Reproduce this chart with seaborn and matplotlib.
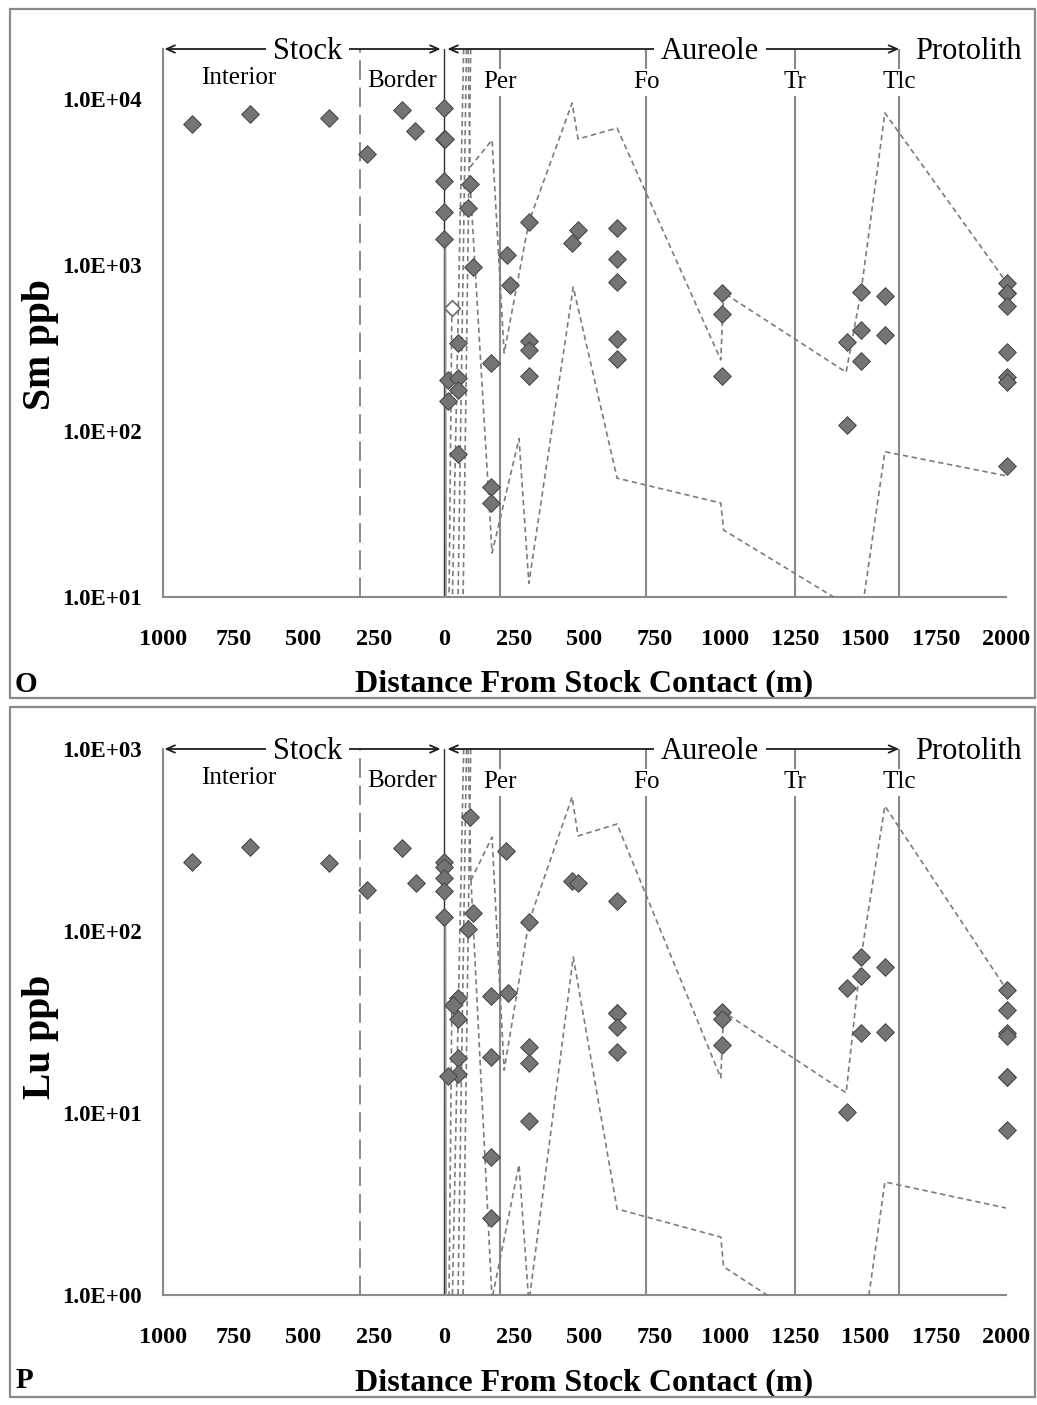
import numpy as np
import matplotlib
matplotlib.use("Agg")
import matplotlib.pyplot as plt
from matplotlib.patches import Rectangle
from matplotlib.ticker import FixedLocator, NullLocator
import seaborn as sns

sns.set_theme(style="white")
plt.rcParams['font.family'] = ['Liberation Serif', 'DejaVu Serif']
plt.rcParams['text.color'] = 'black'
plt.rcParams['axes.labelcolor'] = 'black'
plt.rcParams['xtick.color'] = 'black'
plt.rcParams['ytick.color'] = 'black'

# ---------------------------------------------------------------------------
# Distance axis: negative = inside the stock, positive = into the aureole (m)
X_TICKS = list(range(-1000, 2001, 250))
X_TICK_LABELS = [str(abs(t)) for t in X_TICKS]

BORDER_X = -300
CONTACT_X = 0
ZONE_BOUNDS = [200, 720, 1250, 1620]
ZONE_NAMES = ["Per", "Fo", "Tr", "Tlc"]

# ---------------------------------------------------------------------------
# Sm (ppb)
sm_dist = [-897, -690, -409, -274, -149, -103,
           0, 0, 5, 0, 0, 0,
           50, 14, 50, 50, 14, 50,
           93, 85, 103,
           167, 167, 167,
           224, 235,
           302, 302, 302, 302,
           456, 477,
           616, 616, 616, 616, 616,
           989, 989, 989,
           1434, 1434,
           1484, 1484, 1484,
           1569, 1569,
           2003, 2003, 2003, 2003, 2003, 2003, 2003, 2003]
sm_val = [7070, 8130, 7690, 4670, 8590, 6410,
          8830, 5740, 5740, 3210, 2080, 1430,
          339, 203, 208, 177, 152, 73,
          3080, 2200, 973,
          257, 46, 36.8,
          1150, 760,
          1815, 348, 308, 213,
          1360, 1625,
          1670, 1087, 791, 358, 272,
          678, 507, 214,
          344, 109,
          687, 405, 264,
          650, 378,
          780, 678, 678, 566, 299, 211, 197, 61.5]
sm_open_dist = [28]
sm_open_val = [550]

sm_upper_dist = [93, 171, 214, 302, 456, 477, 616, 985, 995, 1431, 1484, 1569, 2003]
sm_upper_val = [3890, 5660, 295, 1815, 9460, 5740, 6680, 268, 680, 226, 687, 8240, 780]
sm_lower_dist = [93, 171, 267, 302, 460, 616, 985, 995, 1431, 1484, 1569, 2003]
sm_lower_val = [3080, 18.4, 90, 12.1, 736, 52, 36.8, 25.3, 9, 7.5, 75, 53.6]

# steep traces near the contact (top of range -> bottom of range)
sm_steep_dist = [[70, 30], [80, 50], [95, 68], [86, 93], [28, 18]]
sm_steep_val = [[2e4, 10], [2e4, 10], [2e4, 10], [2e4, 3890], [550, 10]]
sm_drop_dist = [5, 7]
sm_drop_val = [1430, 10]

# ---------------------------------------------------------------------------
# Lu (ppb)
lu_dist = [-897, -690, -409, -274, -150, -100,
           0, 0, 0, 0, 0,
           93, 221, 103, 85,
           50, 32, 50, 50, 50, 14,
           167, 167, 167, 167,
           228,
           302, 302, 302, 302,
           456, 477,
           616, 616, 616, 616, 616,
           989, 989, 989,
           1434, 1434,
           1484, 1484, 1484,
           1569, 1569,
           2003, 2003, 2003, 2003, 2003, 2003, 2003]
lu_val = [239, 290, 236, 168, 286, 184,
          240, 225, 195, 165, 119,
          423, 275, 126, 103,
          43, 39, 33, 20, 16.4, 16,
          44, 20.3, 5.7, 2.65,
          45.6,
          112, 23, 18.8, 9.0,
          188, 184,
          146, 35.4, 35.4, 29.7, 21.6,
          35.9, 33, 23.6,
          48.6, 10.1,
          72, 56.6, 27.5,
          63.4, 27.9,
          47.4, 36.8, 27.5, 26.4, 15.8, 15.8, 8.07]

lu_upper_dist = [96, 171, 214, 302, 456, 477, 616, 985, 995, 1431, 1484, 1569, 2003]
lu_upper_val = [190, 328, 17.2, 112, 545, 333, 387, 15.6, 35.9, 12.9, 72, 486, 47.4]
lu_lower_dist = [96, 171, 267, 302, 460, 616, 985, 995, 1431, 1484, 1569, 2003]
lu_lower_val = [190, 0.95, 5.2, 0.9, 72, 2.97, 2.08, 1.43, 0.52, 0.49, 4.18, 3.0]

lu_steep_dist = [[70, 30], [80, 50], [95, 68], [86, 96], [28, 18]]
lu_steep_val = [[1e3, 1], [1e3, 1], [1e3, 1], [1e3, 190], [40, 1]]
lu_drop_dist = [5, 7]
lu_drop_val = [119, 1]

# ---------------------------------------------------------------------------
W, H = 1037, 1405
fig = plt.figure(figsize=(W / 100, H / 100), dpi=100)
fig.patch.set_facecolor("white")

FILL = "#747474"
EDGE = "#4a4a4a"
TRACE = "#7c7c7c"
ZONE = "#8a8a8a"
SPINE = "#8a8a8a"


def px_axes(left, top, right, bottom):
    return fig.add_axes([left / W, 1 - bottom / H, (right - left) / W, (bottom - top) / H])


def frame(top, bottom):
    fig.add_artist(Rectangle((10 / W, 1 - bottom / H), (1035 - 10) / W, (bottom - top) / H,
                             transform=fig.transFigure, fill=False,
                             edgecolor="#8a8a8a", linewidth=1.6))


def draw_panel(ax, pts_d, pts_v, up_d, up_v, lo_d, lo_v, steep_d, steep_v,
               drop_d, drop_v, ylim, yticks, ylabel, ylabel_y, xlabel_y,
               open_d=None, open_v=None):
    ax.set_yscale("log")
    dash = (0, (3.2, 2.2))
    for dd, vv in zip(steep_d, steep_v):
        sns.lineplot(x=dd, y=vv, ax=ax, sort=False, estimator=None,
                     color=TRACE, linewidth=1.2, linestyle=dash, zorder=3)
    sns.lineplot(x=drop_d, y=drop_v, ax=ax, sort=False, estimator=None,
                 color="#9a9a9a", linewidth=1.4, zorder=3)
    for dd, vv in ((up_d, up_v), (lo_d, lo_v)):
        sns.lineplot(x=dd, y=vv, ax=ax, sort=False, estimator=None,
                     color=TRACE, linewidth=1.2, linestyle=dash, zorder=3)

    # zone boundaries
    ax.axvline(BORDER_X, color=ZONE, linewidth=1.4, linestyle=(0, (10, 4)), zorder=1)
    ax.axvline(CONTACT_X, color="#2e2e2e", linewidth=1.0, zorder=2)
    for b in ZONE_BOUNDS:
        ax.axvline(b, color=ZONE, linewidth=1.5, zorder=1)

    sns.scatterplot(x=pts_d, y=pts_v, ax=ax, marker="D", s=80, color=FILL,
                    edgecolor=EDGE, linewidth=0.8, zorder=5, legend=False, clip_on=False)
    if open_d is not None:
        sns.scatterplot(x=open_d, y=open_v, ax=ax, marker="D", s=64, color="white",
                        edgecolor="#6a6a6a", linewidth=1.2, zorder=6, legend=False)

    ax.set_xlim(-1000, 2000)
    ax.set_ylim(*ylim)
    ax.xaxis.set_major_locator(FixedLocator(X_TICKS))
    ax.set_xticklabels(X_TICK_LABELS, fontsize=17.5, fontweight="bold")
    ax.yaxis.set_major_locator(FixedLocator(yticks))
    ax.yaxis.set_minor_locator(NullLocator())
    ax.set_yticklabels([f"{t:.1E}" for t in yticks], fontsize=16.5, fontweight="bold")
    ax.tick_params(axis="x", direction="out", length=5, width=1.0, color=SPINE, pad=18)
    ax.tick_params(axis="y", direction="out", length=5, width=1.0, color=SPINE, pad=10)
    ax.grid(False)
    for side in ("top", "right"):
        ax.spines[side].set_visible(False)
    for side in ("left", "bottom"):
        ax.spines[side].set_color(SPINE)
        ax.spines[side].set_linewidth(1.5)

    ax.set_ylabel(ylabel, fontsize=28.5, fontweight="bold")
    ax.yaxis.label.set_va("center")
    ax.yaxis.set_label_coords(-0.145, ylabel_y)
    ax.set_xlabel("Distance From Stock Contact (m)", fontsize=23, fontweight="bold")
    ax.xaxis.label.set_va("center")
    ax.xaxis.set_label_coords(0.5, xlabel_y)

    # unit annotations along the top
    tr = ax.get_xaxis_transform()
    arrow = dict(arrowstyle="<->,head_length=0.5,head_width=0.22", color="#1e1e1e",
                 lw=1.3, shrinkA=0, shrinkB=0)
    ax.annotate("", xy=(-995, 1.0), xytext=(-12, 1.0), xycoords=tr, textcoords=tr,
                arrowprops=arrow, annotation_clip=False, zorder=7)
    ax.annotate("", xy=(12, 1.0), xytext=(1620, 1.0), xycoords=tr, textcoords=tr,
                arrowprops=arrow, annotation_clip=False, zorder=7)
    box = dict(facecolor="white", edgecolor="none", pad=5)
    for label, xpos in (("Stock", -487), ("Aureole", 947), ("Protolith", 1865)):
        ax.text(xpos, 0.996, label, transform=tr, fontsize=22, ha="center", va="center",
                bbox=box, zorder=8, clip_on=False)
    small_box = dict(facecolor="white", edgecolor="none", pad=2)
    ax.text(-730, 0.947, "Interior", transform=tr, fontsize=18, ha="center", va="center",
            zorder=8)
    ax.text(-149, 0.941, "Border", transform=tr, fontsize=18, ha="center", va="center",
            zorder=8)
    for name, b in zip(ZONE_NAMES, ZONE_BOUNDS):
        ax.text(b, 0.939, name, transform=tr, fontsize=18, ha="center", va="center",
                bbox=small_box, zorder=8)


frame(9, 698)
frame(707, 1397)

ax_o = px_axes(163, 49, 1006, 597)
draw_panel(ax_o, sm_dist, sm_val, sm_upper_dist, sm_upper_val,
           sm_lower_dist, sm_lower_val, sm_steep_dist, sm_steep_val,
           sm_drop_dist, sm_drop_val, (10, 2e4), [10, 100, 1000, 10000],
           "Sm ppb", 0.46, -0.158, sm_open_dist, sm_open_val)

ax_p = px_axes(163, 749, 1006, 1295)
draw_panel(ax_p, lu_dist, lu_val, lu_upper_dist, lu_upper_val,
           lu_lower_dist, lu_lower_val, lu_steep_dist, lu_steep_val,
           lu_drop_dist, lu_drop_val, (1, 1e3), [1, 10, 100, 1000],
           "Lu ppb", 0.473, -0.161)

fig.text(26 / W, 1 - 685 / H, "O", fontsize=21, fontweight="bold", ha="center", va="center")
fig.text(24 / W, 1 - 1380 / H, "P", fontsize=21, fontweight="bold", ha="center", va="center")

fig.savefig("out.png", dpi=100, facecolor="white")
